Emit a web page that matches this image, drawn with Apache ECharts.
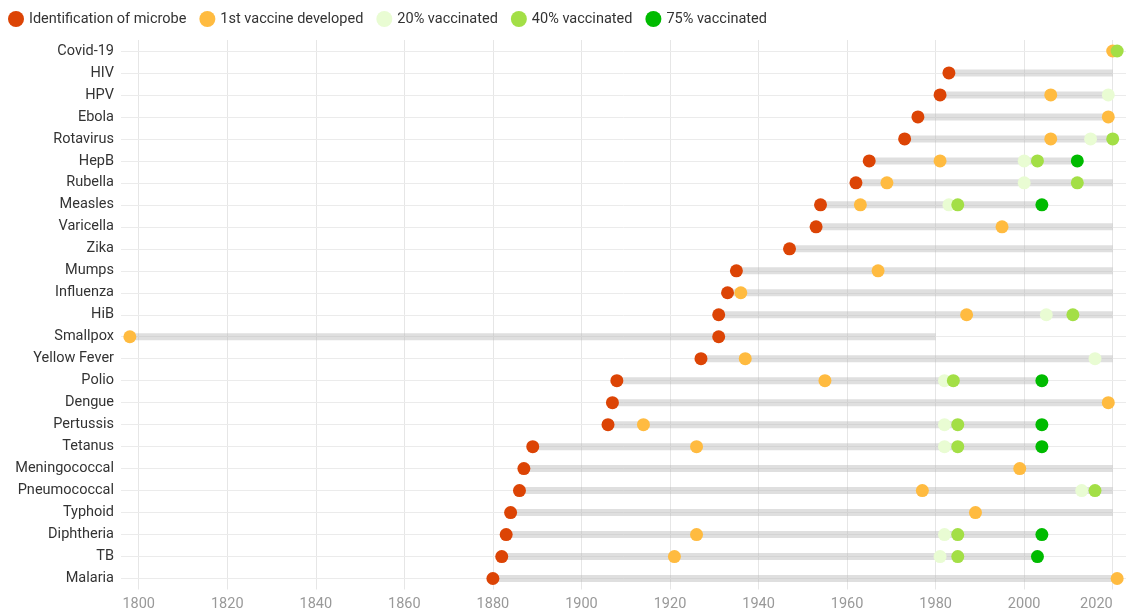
<!DOCTYPE html>
<html>
<head>
<meta charset="utf-8">
<script src="https://cdn.jsdelivr.net/npm/echarts@6/dist/echarts.min.js"></script>
<style>
  html, body { margin: 0; padding: 0; background: #fff; }
  #chart { width: 1126px; height: 612px; }
</style>
</head>
<body>
<div id="chart"></div>
<script>
// 疾病（从上到下）
var diseases = ['Covid-19', 'HIV', 'HPV', 'Ebola', 'Rotavirus', 'HepB', 'Rubella', 'Measles', 'Varicella', 'Zika',
  'Mumps', 'Influenza', 'HiB', 'Smallpox', 'Yellow Fever', 'Polio', 'Dengue', 'Pertussis', 'Tetanus',
  'Meningococcal', 'Pneumococcal', 'Typhoid', 'Diphtheria', 'TB', 'Malaria']
var identified = [null, 1983, 1981, 1976, 1973, 1965, 1962, 1954, 1953, 1947, 1935, 1933, 1931, 1931, 1927,
  1908, 1907, 1906, 1889, 1887, 1886, 1884, 1883, 1882, 1880]
var firstVaccine = [2020, null, 2006, 2019, 2006, 1981, 1969, 1963, 1995, null, 1967, 1936, 1987, 1798, 1937,
  1955, 2019, 1914, 1926, 1999, 1977, 1989, 1926, 1921, 2021]
var vacc20 = [null, null, 2019, null, 2015, 2000, 2000, 1983, null, null, null, null, 2005, null, 2016,
  1982, null, 1982, 1982, null, 2013, null, 1982, 1981, null]
var vacc40 = [2021, null, null, null, 2020, 2003, 2012, 1985, null, null, null, null, 2011, null, null,
  1984, null, 1985, 1985, null, 2016, null, 1985, 1985, null]
var vacc75 = [null, null, null, null, null, 2012, null, 2004, null, null, null, null, null, null, null,
  2004, null, 2004, 2004, null, null, null, 2004, 2003, null]
// 灰色区间的结束年份
var rangeEnd = [null, 2020, 2020, 2020, 2020, 2012, 2020, 2004, 2020, 2020, 2020, 2020, 2020, 1980, 2020,
  2004, 2020, 2004, 2004, 2020, 2020, 2020, 2004, 2003, 2020]
var yearTicks = [1800, 1820, 1840, 1860, 1880, 1900, 1920, 1940, 1960, 1980, 2000, 2020]

var rangeData = []
for (var i = 0; i < diseases.length; i++) {
  if (rangeEnd[i] == null) continue
  var starts = [identified[i], firstVaccine[i]].filter(function (v) { return v != null })
  rangeData.push([Math.min.apply(null, starts), rangeEnd[i], i])
}

function points(arr) {
  var out = []
  arr.forEach(function (v, i) {
    if (v != null) out.push([v, diseases[i]])
  })
  return out
}

function dotSeries(name, arr, color) {
  return {
    name: name,
    type: 'scatter',
    symbol: 'circle',
    symbolSize: 13,
    itemStyle: { color: color, opacity: 1 },
    z: 3,
    data: points(arr)
  }
}

var chart = echarts.init(document.getElementById('chart'))
var options = {
  animation: false,
  textStyle: { fontFamily: 'Roboto' },
  grid: {
    top: 40,
    left: 121,
    right: 0,
    bottom: 22.5,
    containLabel: false,
    outerBoundsMode: 'none'
  },
  legend: {
    left: 3,
    top: 6,
    itemWidth: 16,
    itemHeight: 16,
    itemGap: 13,
    icon: 'circle',
    textStyle: { fontSize: 14.5, color: '#333', fontFamily: 'Roboto' },
    data: ['Identification of microbe', '1st vaccine developed', '20% vaccinated', '40% vaccinated', '75% vaccinated']
  },
  xAxis: {
    type: 'value',
    min: 1796,
    max: 2023,
    axisLine: { show: false },
    axisTick: { show: false, customValues: yearTicks },
    axisLabel: {
      customValues: yearTicks,
      formatter: function (v) { return String(v) },
      alignMaxLabel: 'right',
      color: '#999',
      fontSize: 14.5,
      margin: 7,
      fontFamily: 'Roboto'
    },
    splitLine: { show: true, lineStyle: { color: '#e6e6e6', width: 1 } }
  },
  yAxis: {
    type: 'category',
    inverse: true,
    data: diseases,
    axisLine: { show: false },
    axisTick: {
      show: true,
      alignWithLabel: true,
      inside: true,
      length: 1005,
      lineStyle: { color: '#ebebeb', width: 1 }
    },
    axisLabel: { color: '#333', fontSize: 14.5, margin: 7, fontFamily: 'Roboto' },
    splitLine: { show: false }
  },
  series: [
    {
      name: 'range',
      type: 'custom',
      z: 1,
      silent: true,
      renderItem: function (params, api) {
        var p0 = api.coord([api.value(0), api.value(2)])
        var p1 = api.coord([api.value(1), api.value(2)])
        return {
          type: 'rect',
          shape: { x: p0[0], y: p0[1] - 3.5, width: p1[0] - p0[0], height: 7 },
          style: { fill: 'rgba(185,185,185,0.45)' }
        }
      },
      encode: { x: [0, 1], y: 2 },
      data: rangeData
    },
    dotSeries('Identification of microbe', identified, '#dc4405'),
    dotSeries('1st vaccine developed', firstVaccine, '#ffbb40'),
    dotSeries('20% vaccinated', vacc20, '#e9fcd3'),
    dotSeries('40% vaccinated', vacc40, '#a3df46'),
    dotSeries('75% vaccinated', vacc75, '#00bb00')
  ]
}
chart.setOption(options)
</script>
</body>
</html>
